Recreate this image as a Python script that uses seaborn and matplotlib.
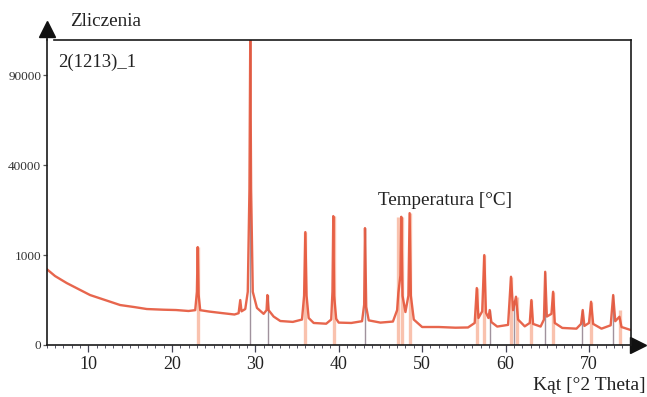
import numpy as np
import matplotlib
matplotlib.use("Agg")
import matplotlib.pyplot as plt
import seaborn as sns
import pandas as pd

# dane (kąt 2θ, zliczenia)
kat = [5.0, 6.0, 7.4, 8.8, 10.2, 12.0, 13.8, 15.5, 17.0, 19.0, 20.5, 22.0,
       22.8, 23.0, 23.1, 23.2, 23.4, 24.5, 26.0, 27.5, 28.0, 28.2, 28.35,
       28.8, 29.1, 29.3, 29.4, 29.5, 29.7, 30.2, 31.0, 31.35, 31.45, 31.6,
       32.2, 33.0, 34.5, 35.6, 35.85, 36.0, 36.15, 36.4, 37.0, 38.5, 39.1,
       39.25, 39.35, 39.45, 39.7, 40.0, 41.5, 42.8, 43.05, 43.15, 43.3, 43.6,
       45.0, 46.5, 47.0, 47.15, 47.4, 47.5, 47.65, 48.0, 48.35, 48.5, 48.65,
       49.0, 50.0, 52.0, 54.0, 55.5, 56.3, 56.55, 56.75, 57.2, 57.45, 57.65,
       57.95, 58.1, 58.3, 59.0, 60.3, 60.65, 60.9, 61.25, 61.5, 62.3, 62.9,
       63.1, 63.3, 64.2, 64.6, 64.75, 64.95, 65.5, 65.7, 65.9, 66.8, 68.5,
       69.05, 69.25, 69.45, 70.0, 70.25, 70.5, 71.5, 72.6, 72.9, 73.15, 73.65,
       73.9, 75.0]
zliczenia = [7130, 5880, 4745, 3870, 3086, 2500, 1975, 1780, 1600, 1540, 1512,
             1430, 1500, 3500, 11860, 3200, 1500, 1380, 1260, 1150, 1250, 2500,
             1400, 1600, 3500, 30000, 120000, 30000, 3500, 1700, 1200, 1500,
             3086, 1500, 1000, 711, 660, 800, 3000, 15770, 3000, 900, 600, 560,
             800, 3500, 20550, 3000, 850, 620, 600, 700, 2000, 16900, 1800, 750,
             620, 680, 1500, 3338, 6000, 20330, 3000, 1344, 3000, 21510, 3000,
             800, 400, 400, 370, 380, 600, 4011, 900, 1400, 10000, 1300, 900,
             1512, 650, 420, 500, 5760, 1500, 2882, 800, 430, 600, 2500, 550,
             420, 800, 6630, 1000, 1200, 3507, 600, 360, 330, 550, 1512, 450,
             600, 2315, 550, 330, 480, 3086, 700, 988, 400, 278]

# linie wzorca (pozycje i wysokości)
wzorzec_a_kat = [23.1, 36.0, 39.4, 47.1, 47.55, 48.5, 56.6, 57.45, 60.7,
                 61.4, 63.1, 65.7, 70.25, 73.7]
wzorzec_a_int = [11860, 15770, 20550, 20330, 20330, 21510, 4011, 10000, 5760,
                 2882, 2500, 3507, 2315, 1500]
wzorzec_b_kat = [29.4, 31.5, 43.2, 58.1, 61.0, 64.7, 69.2, 72.9]
wzorzec_b_int = [120000, 3086, 16900, 1512, 2500, 6630, 1512, 3086]

x_ticks = [10, 20, 30, 40, 50, 60, 70]
y_ticks = [0, 10000, 40000, 90000]
y_tick_labels = ['0', '1000', '40000', '90000']

df = pd.DataFrame({'kat': kat, 'zliczenia': zliczenia})

sns.set_style('ticks')
plt.rcParams['font.family'] = ['Liberation Serif', 'DejaVu Serif']

fig = plt.figure(figsize=(6.47, 3.97), dpi=100)
ax = fig.add_axes([0.0722, 0.131, 0.9026, 0.768])

ax.set_yscale('function', functions=(lambda v: np.sqrt(np.clip(v, 0, None)),
                                     lambda v: np.square(v)))

ax.vlines(wzorzec_a_kat, 0, wzorzec_a_int, color='#f7a98c', lw=2.4, alpha=0.7, zorder=1)
ax.vlines(wzorzec_b_kat, 0, wzorzec_b_int, color='#8f7f8c', lw=1.0, alpha=0.85, zorder=1)

sns.lineplot(data=df, x='kat', y='zliczenia', ax=ax, color='#e5553a',
             lw=1.7, alpha=0.9, estimator=None, sort=False, zorder=2)

ax.set_xlim(5, 75)
ax.set_ylim(0, 115000)
ax.set_xticks(x_ticks)
ax.set_xticks(np.arange(5, 76, 1), minor=True)
ax.set_yticks(y_ticks)
ax.set_yticklabels(y_tick_labels)
ax.set_xlabel('')
ax.set_ylabel('')

ax.tick_params(axis='x', which='major', length=5, width=0.9, color='#445', labelsize=13,
               pad=3, labelcolor='#222')
ax.tick_params(axis='x', which='minor', length=2.5, width=0.7, color='#556')
ax.tick_params(axis='y', which='major', length=3, width=0.9, color='#555', labelsize=9.5,
               pad=1, labelcolor='#333')

for s in ax.spines.values():
    s.set_color('#1a1a1a')
    s.set_linewidth(1.2)
    s.set_visible(True)
ax.spines['top'].set_bounds(5.9, 75)

# strzałki osi
ax.plot([0, 0], [1.0, 1.03], transform=ax.transAxes, color='#1a1a1a', lw=1.2, clip_on=False)
ax.plot([0], [1.036], marker='^', markersize=12, color='#111', transform=ax.transAxes, clip_on=False)
ax.plot([1.0, 1.01], [0, 0], transform=ax.transAxes, color='#1a1a1a', lw=1.2, clip_on=False)
ax.plot([1.0125], [0], marker='>', markersize=11, color='#111', transform=ax.transAxes, clip_on=False)

fig.text(0.108, 0.945, 'Zliczenia', fontsize=13.8, va='center', ha='left', color='#222')
fig.text(0.0896, 0.844, '2(1213)_1', fontsize=13.5, va='center', ha='left', color='#222')
fig.text(0.584, 0.496, 'Temperatura [°C]', fontsize=13.8, va='center', ha='left', color='#222')
fig.text(0.998, 0.028, 'Kąt [°2 Theta]', fontsize=14, va='center', ha='right', color='#222')

fig.savefig('out.png', dpi=100)
